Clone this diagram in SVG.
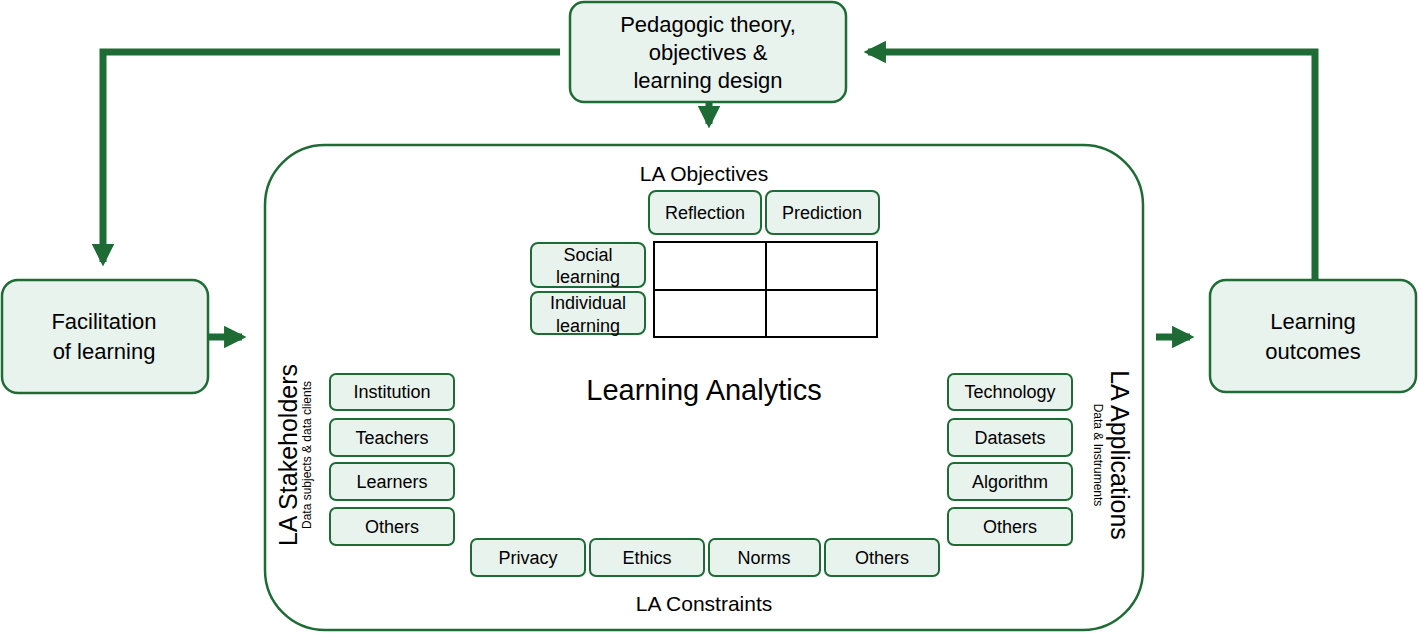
<svg xmlns="http://www.w3.org/2000/svg" width="1418" height="633" viewBox="0 0 1418 633">
<defs>
<style>
.n{fill:#e9f3ed;stroke:#1f6b36;stroke-width:2.5}
.s{fill:#e9f3ed;stroke:#1f6b36;stroke-width:2}
.t{font-family:"Liberation Sans",Arial,sans-serif;fill:#000;text-anchor:middle}
.c{fill:none;stroke:#1f6b36;stroke-width:7}
</style>
<marker id="a" viewBox="0 0 10 10" refX="8" refY="5" markerWidth="3.2" markerHeight="3.2" orient="auto" markerUnits="strokeWidth"><path d="M0,0L10,5L0,10z" fill="#1f6b36"/></marker>
</defs>
<rect width="1418" height="633" fill="#fff"/>
<g id="connectors">
<path class="c" d="M560,52H103V262" marker-end="url(#a)"/>
<path class="c" d="M709,103V124" marker-end="url(#a)"/>
<path class="c" d="M1315,280V52H868" marker-end="url(#a)"/>
<path class="c" d="M209,337H242" marker-end="url(#a)"/>
<path class="c" d="M1156,337H1190" marker-end="url(#a)"/>
</g>
<g id="la"><rect x="265" y="145" width="878" height="485" rx="60" fill="#fff" stroke="#1f6b36" stroke-width="2.5"/>
<text class="t" x="704" y="400" font-size="29">Learning Analytics</text></g>
<g id="pedagogic"><rect class="n" x="570" y="2" width="276" height="100" rx="14"/>
<text class="t" x="708" y="32" font-size="22">Pedagogic theory,</text><text class="t" x="708" y="60" font-size="22">objectives &amp;</text><text class="t" x="708" y="88" font-size="22">learning design</text></g>
<g id="facilitation"><rect class="n" x="2" y="280" width="206" height="113" rx="16"/>
<text class="t" x="104" y="329" font-size="22">Facilitation</text><text class="t" x="104" y="359" font-size="22">of learning</text></g>
<g id="outcomes"><rect class="n" x="1210" y="280" width="206" height="112" rx="16"/>
<text class="t" x="1313" y="329" font-size="22">Learning</text><text class="t" x="1313" y="359" font-size="22">outcomes</text></g>
<g id="objectives"><text class="t" x="704" y="181" font-size="21">LA Objectives</text>
<rect class="s" x="649" y="191" width="112" height="43" rx="7"/><text class="t" x="705" y="219" font-size="18">Reflection</text>
<rect class="s" x="766" y="191" width="113" height="43" rx="7"/><text class="t" x="822" y="219" font-size="18">Prediction</text>
<rect class="s" x="531" y="243" width="114" height="44" rx="7"/><text class="t" x="588" y="261" font-size="18">Social</text><text class="t" x="588" y="283" font-size="18">learning</text>
<rect class="s" x="531" y="292" width="114" height="42" rx="7"/><text class="t" x="588" y="309" font-size="18">Individual</text><text class="t" x="588" y="332" font-size="18">learning</text>
<path d="M654,242H877V337H654Z M766,242V337 M654,290H877" fill="#fff" stroke="#000" stroke-width="2"/></g>
<g id="stakeholders">
<text class="t" font-size="25" transform="translate(297,455) rotate(-90)">LA Stakeholders</text>
<text class="t" font-size="12" transform="translate(311,455) rotate(-90)">Data subjects &amp; data clients</text>
<rect class="s" x="330" y="374" width="124" height="36" rx="6"/><text class="t" x="392" y="398" font-size="18">Institution</text>
<rect class="s" x="330" y="419" width="124" height="37" rx="6"/><text class="t" x="392" y="444" font-size="18">Teachers</text>
<rect class="s" x="330" y="463" width="124" height="37" rx="6"/><text class="t" x="392" y="488" font-size="18">Learners</text>
<rect class="s" x="330" y="508" width="124" height="37" rx="6"/><text class="t" x="392" y="533" font-size="18">Others</text></g>
<g id="applications">
<text class="t" font-size="25" transform="translate(1111,455) rotate(90)">LA Applications</text>
<text class="t" font-size="12" transform="translate(1094,455) rotate(90)">Data &amp; Instruments</text>
<rect class="s" x="948" y="374" width="124" height="36" rx="6"/><text class="t" x="1010" y="398" font-size="18">Technology</text>
<rect class="s" x="948" y="419" width="124" height="37" rx="6"/><text class="t" x="1010" y="444" font-size="18">Datasets</text>
<rect class="s" x="948" y="463" width="124" height="37" rx="6"/><text class="t" x="1010" y="488" font-size="18">Algorithm</text>
<rect class="s" x="948" y="508" width="124" height="37" rx="6"/><text class="t" x="1010" y="533" font-size="18">Others</text></g>
<g id="constraints">
<rect class="s" x="471" y="539" width="114" height="37" rx="6"/><text class="t" x="528" y="564" font-size="18">Privacy</text>
<rect class="s" x="590" y="539" width="114" height="37" rx="6"/><text class="t" x="647" y="564" font-size="18">Ethics</text>
<rect class="s" x="709" y="539" width="111" height="37" rx="6"/><text class="t" x="764" y="564" font-size="18">Norms</text>
<rect class="s" x="825" y="539" width="114" height="37" rx="6"/><text class="t" x="882" y="564" font-size="18">Others</text>
<text class="t" x="704" y="611" font-size="21">LA Constraints</text></g>
</svg>
